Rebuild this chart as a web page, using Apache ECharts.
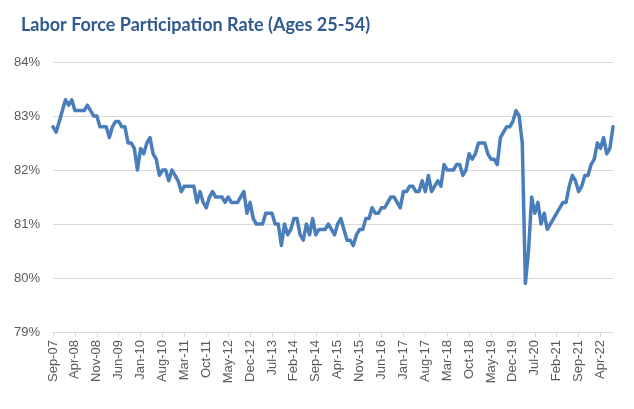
<!DOCTYPE html>
<html>
<head>
<meta charset="utf-8">
<script src="https://cdn.jsdelivr.net/npm/echarts@6/dist/echarts.min.js"></script>
<style>
html,body{margin:0;padding:0;background:#fff;}
#chart{width:634px;height:409px;}
</style>
</head>
<body>
<div id="chart"></div>
<script>
// Monthly categories Sep-07 .. Aug-22
const monthNames = ['Jan','Feb','Mar','Apr','May','Jun','Jul','Aug','Sep','Oct','Nov','Dec'];
const startYear = 2007, startMonth = 8, monthCount = 180;
const categories = [];
for (let k = 0; k < monthCount; k++) {
  const m = (startMonth + k) % 12;
  const y = startYear + Math.floor((startMonth + k) / 12);
  categories.push(monthNames[m] + '-' + String(y % 100).padStart(2, '0'));
}

// Participation rate (%), ages 25-54
const values2007_2010 = [
  82.8, 82.7, 82.9, 83.1,                                           // Sep-Dec 07
  83.3, 83.2, 83.3, 83.1, 83.1, 83.1, 83.1, 83.2, 83.1, 83.0, 83.0, 82.8, // 08
  82.8, 82.8, 82.6, 82.8, 82.9, 82.9, 82.8, 82.8, 82.5, 82.5, 82.4, 82.0, // 09
  82.4, 82.3, 82.5, 82.6, 82.3, 82.2, 81.9, 82.0, 82.0, 81.8, 82.0, 81.9  // 10
];
const values2011_2014 = [
  81.8, 81.6, 81.7, 81.7, 81.7, 81.7, 81.4, 81.6, 81.4, 81.3, 81.5, 81.6, // 11
  81.5, 81.5, 81.5, 81.4, 81.5, 81.4, 81.4, 81.4, 81.5, 81.6, 81.2, 81.4, // 12
  81.1, 81.0, 81.0, 81.0, 81.2, 81.2, 81.2, 81.0, 81.0, 80.6, 81.0, 80.8, // 13
  80.9, 81.1, 81.1, 80.8, 80.7, 81.0, 80.8, 81.1, 80.8, 80.9, 80.9, 80.9  // 14
];
const values2015_2018 = [
  81.0, 80.9, 80.8, 81.0, 81.1, 80.9, 80.7, 80.7, 80.6, 80.8, 80.9, 80.9, // 15
  81.1, 81.1, 81.3, 81.2, 81.2, 81.3, 81.3, 81.4, 81.5, 81.5, 81.4, 81.3, // 16
  81.6, 81.6, 81.7, 81.7, 81.6, 81.6, 81.8, 81.6, 81.9, 81.6, 81.7, 81.8, // 17
  81.7, 82.1, 82.0, 82.0, 82.0, 82.1, 82.1, 81.9, 82.0, 82.3, 82.2, 82.3  // 18
];
const values2019_2022 = [
  82.5, 82.5, 82.5, 82.3, 82.2, 82.2, 82.1, 82.6, 82.7, 82.8, 82.8, 82.9, // 19
  83.1, 83.0, 82.5, 79.9, 80.5, 81.5, 81.2, 81.4, 81.0, 81.2, 80.9, 81.0, // 20
  81.1, 81.2, 81.3, 81.4, 81.4, 81.7, 81.9, 81.8, 81.6, 81.7, 81.9, 81.9, // 21
  82.1, 82.2, 82.5, 82.4, 82.6, 82.3, 82.4, 82.8                          // 22
];
const values = values2007_2010.concat(values2011_2014, values2015_2018, values2019_2022);

const yTicks = [79, 80, 81, 82, 83, 84];

const chart = echarts.init(document.getElementById('chart'), null, {renderer: 'canvas'});
chart.setOption({
  animation: false,
  backgroundColor: '#ffffff',
  title: {
    text: 'Labor Force Participation Rate (Ages 25-54)',
    left: 16,
    top: 11,
    textStyle: {
      fontFamily: 'Lato',
      fontWeight: 'bold',
      fontSize: 18,
      color: '#2F5A8F'
    }
  },
  grid: {left: 53, right: 21, top: 62, bottom: 77, containLabel: false},
  xAxis: {
    type: 'category',
    data: categories,
    boundaryGap: false,
    axisLine: {lineStyle: {color: '#d9d9d9', width: 1}},
    axisTick: {show: true, interval: 6, length: 5, lineStyle: {color: '#d9d9d9'}},
    axisLabel: {
      interval: 6,
      rotate: 90,
      margin: 8,
      fontFamily: 'Liberation Sans',
      fontSize: 13,
      color: '#595959'
    },
    splitLine: {show: false}
  },
  yAxis: {
    type: 'value',
    min: yTicks[0],
    max: yTicks[yTicks.length - 1],
    interval: 1,
    axisLine: {show: false},
    axisTick: {show: false},
    axisLabel: {
      formatter: '{value}%',
      margin: 13,
      fontFamily: 'Liberation Sans',
      fontSize: 13,
      color: '#595959'
    },
    splitLine: {lineStyle: {color: '#d9d9d9', width: 1}}
  },
  series: [{
    type: 'line',
    data: values,
    showSymbol: false,
    symbol: 'none',
    lineStyle: {color: '#4A7EBB', width: 3.5, join: 'round', cap: 'round'},
    itemStyle: {color: '#4A7EBB'}
  }]
});
</script>
</body>
</html>
